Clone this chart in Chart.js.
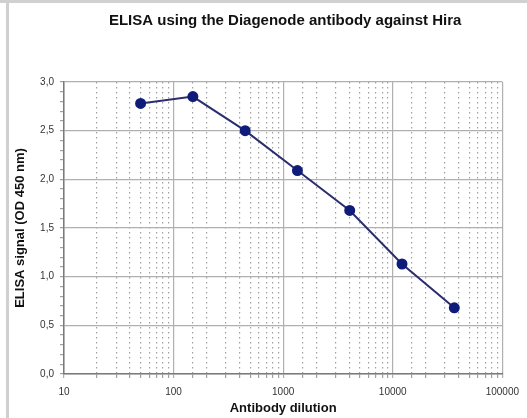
<!DOCTYPE html>
<html>
<head>
    <title>ELISA Hira</title>
    <script src="https://cdn.jsdelivr.net/npm/chart.js"></script>
    <style>
        body { margin: 0; background: #fff; }
        #wrap { position: relative; width: 527px; height: 418px; }
        #frameTop { position: absolute; left: 0; top: 0; width: 527px; height: 3px; background: #d0d0d0; }
        #frameLeft { position: absolute; left: 6px; top: 0; width: 3px; height: 418px; background: #d0d0d0; }
    </style>
</head>
<body>
<div id="wrap">
    <canvas id="chart" width="527" height="418"></canvas>
    <div id="frameTop"></div>
    <div id="frameLeft"></div>
</div>
<script>
    var chartTitle = 'ELISA using the Diagenode antibody against Hira';
    var dilutions = [50, 150, 450, 1350, 4050, 12150, 36450];
    var signals = [2.78, 2.85, 2.50, 2.09, 1.68, 1.13, 0.68];
    var yTicks = [0, 0.1, 0.2, 0.3, 0.4, 0.5, 0.6, 0.7, 0.8, 0.9, 1.0, 1.1, 1.2, 1.3, 1.4, 1.5,
                  1.6, 1.7, 1.8, 1.9, 2.0, 2.1, 2.2, 2.3, 2.4, 2.5, 2.6, 2.7, 2.8, 2.9, 3.0];

    var points = dilutions.map(function(d, i) { return {x: d, y: signals[i]}; });

    function isDecade(v) {
        var l = Math.log10(v);
        return Math.abs(l - Math.round(l)) < 1e-6;
    }
    function isHalf(v) {
        return Math.abs(v * 2 - Math.round(v * 2)) < 1e-6;
    }

    // title centred over the plot area, like the original
    var plotTitle = {
        id: 'plotTitle',
        afterDraw: function(chart) {
            var c = chart.ctx, a = chart.chartArea;
            c.save();
            c.font = 'bold 15px "Liberation Sans", Arial, sans-serif';
            c.fillStyle = '#111';
            c.textAlign = 'center';
            c.textBaseline = 'middle';
            c.fillText(chartTitle, (a.left + a.right) / 2 + 2, 21);
            c.restore();
        }
    };

    var ctx = document.getElementById('chart').getContext('2d');
    var elisa_chart = new Chart(ctx, {
        type: 'line',
        data: {
            datasets: [{
                label: 'Hira',
                data: points,
                borderColor: '#2b2d6e',
                backgroundColor: '#101c7a',
                pointBackgroundColor: '#101c7a',
                pointBorderColor: '#101c7a',
                borderWidth: 2,
                pointRadius: 4.5,
                tension: 0
            }]
        },
        options: {
            responsive: false,
            animation: false,
            layout: { padding: { left: 12, top: 82, right: 24, bottom: 0 } },
            plugins: {
                legend: { display: false },
                tooltip: { enabled: false }
            },
            scales: {
                x: {
                    type: 'logarithmic',
                    min: 10,
                    max: 100000,
                    afterFit: function(s) { s.height = 44; },
                    ticks: {
                        autoSkip: false,
                        maxRotation: 0,
                        padding: 8,
                        color: '#333',
                        font: { family: '"Liberation Sans", Arial, sans-serif', size: 10 },
                        callback: function(v) { return isDecade(v) ? String(Math.round(v)) : ''; }
                    },
                    grid: {
                        tickLength: 4,
                        color: function(c) { return isDecade(c.tick.value) ? '#b0b0b0' : '#a0a0a0'; },
                        lineWidth: 1.2
                    },
                    border: {
                        color: '#7a7a7a',
                        width: 1.5,
                        dash: function(c) { return (c.tick && !isDecade(c.tick.value)) ? [1.5, 3.5] : []; }
                    },
                    title: {
                        display: true,
                        text: 'Antibody dilution',
                        color: '#111',
                        padding: { top: 0, bottom: 2 },
                        font: { family: '"Liberation Sans", Arial, sans-serif', size: 13, weight: 'bold' }
                    }
                },
                y: {
                    min: 0,
                    max: 3,
                    afterFit: function(s) { s.width = 52; },
                    afterBuildTicks: function(s) { s.ticks = yTicks.map(function(v) { return {value: v}; }); },
                    ticks: {
                        padding: 6,
                        autoSkip: false,
                        color: '#333',
                        font: { family: '"Liberation Sans", Arial, sans-serif', size: 10 },
                        callback: function(v) { return isHalf(v) ? v.toFixed(1).replace('.', ',') : ''; }
                    },
                    grid: {
                        tickLength: 4,
                        color: function(c) { return isHalf(c.tick.value) ? '#b0b0b0' : 'rgba(0,0,0,0)'; },
                        tickColor: '#a0a0a0',
                        lineWidth: 1.2
                    },
                    border: { color: '#7a7a7a', width: 1.5 },
                    title: {
                        display: true,
                        text: 'ELISA signal (OD 450 nm)',
                        color: '#111',
                        padding: { top: 1, bottom: 0 },
                        font: { family: '"Liberation Sans", Arial, sans-serif', size: 13, weight: 'bold' }
                    }
                }
            }
        },
        plugins: [plotTitle]
    });
</script>
</body>
</html>
